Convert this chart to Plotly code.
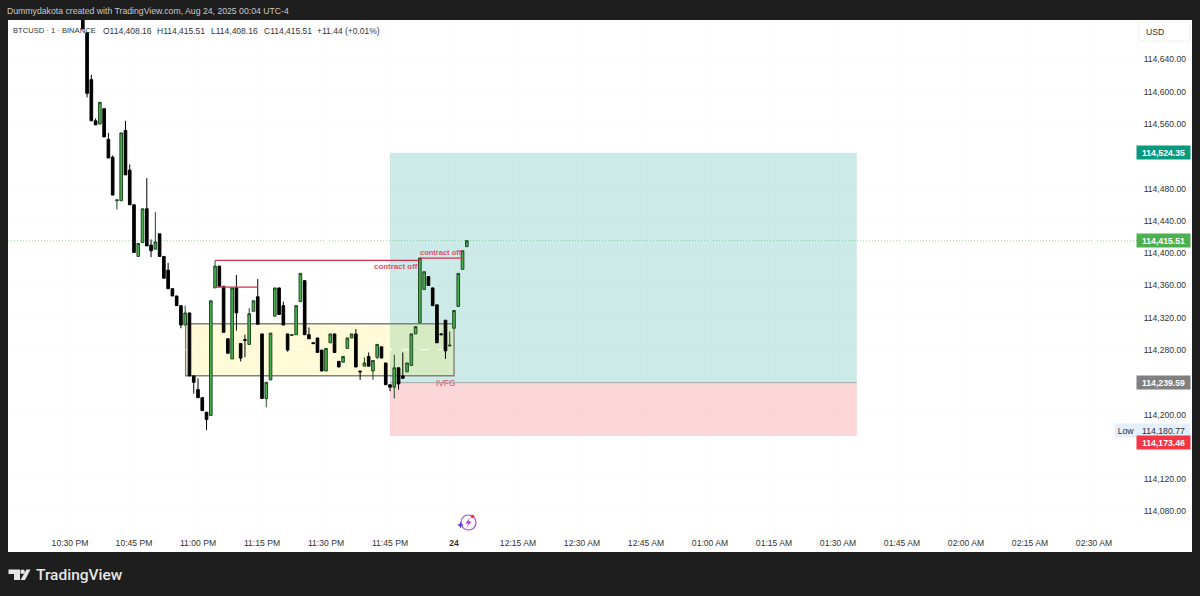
import pandas as pd
import plotly.graph_objects as go

BASE = pd.Timestamp("2025-08-23 22:30")
FIRST_MINUTE = 3
opens = [114702,114673,114615,114564,114560,114579,114541,114519,114465,114465,114552,114503,114460,114396,114413,114455,114410,114405,114424,114396,114379,114356,114347,114335,114311,114326,114248,114231,114221,114203,114199,114357,114384,114359,114294,114269,114357,114288,114293,114287,114328,114346,114300,114220,114243,114322,114357,114335,114300,114298,114299,114340,114366,114299,114289,114295,114280,114254,114289,114300,114266,114265,114282,114295,114300,114254,114260,114272,114254,114271,114284,114264,114237,114234,114258,114248,114253,114261,114300,114314,114355,114371,114357,114336,114300,114317,114285,114307,114334,114380,114408.16]
highs = [114708,114673,114621,114567,114587,114579,114549,114521,114466,114549,114564,114510,114460,114412,114455,114493,114417,114451,114424,114396,114388,114356,114347,114335,114335,114326,114248,114245,114221,114203,114341,114391,114384,114359,114294,114357,114373,114288,114299,114332,114341,114368,114300,114240,114301,114357,114357,114340,114300,114299,114335,114375,114366,114308,114290,114295,114280,114282,114300,114300,114266,114272,114295,114300,114306,114254,114271,114277,114267,114287,114284,114264,114237,114274,114258,114277,114264,114300,114309,114394,114377,114371,114357,114336,114301,114317,114303,114329,114375,114403,114415.51]
lows = [114678,114593,114564,114559,114560,114544,114518,114472,114454,114465,114497,114460,114401,114396,114413,114409,114395,114405,114396,114369,114356,114347,114335,114307,114311,114248,114226,114221,114205,114180.77,114199,114357,114359,114302,114276,114269,114304,114266,114271,114287,114328,114312,114220,114209,114243,114322,114324,114311,114278,114298,114299,114340,114299,114294,114288,114277,114254,114254,114289,114277,114259,114265,114282,114295,114259,114243,114260,114260,114243,114269,114270,114237,114229,114220,114231,114245,114253,114261,114300,114314,114355,114360,114335,114289,114299,114269,114285,114307,114334,114380,114408.16]
closes = [114678,114598,114564,114559,114587,114544,114518,114472,114466,114549,114497,114460,114401,114412,114455,114409,114403,114414,114396,114369,114356,114347,114335,114311,114326,114248,114240,114221,114205,114194,114341,114384,114359,114302,114276,114357,114326,114270,114292,114325,114341,114312,114220,114240,114301,114357,114324,114311,114280,114299,114335,114375,114299,114294,114288,114277,114254,114282,114300,114277,114259,114272,114295,114300,114259,114253,114264,114260,114267,114287,114270,114237,114234,114258,114238,114245,114264,114300,114309,114394,114377,114360,114335,114289,114299,114279,114286,114329,114375,114403,114415.51]

tick_minutes = [0,15,30,45,60,75,90,105,120,135,150,165,180,195,210,225,240]
tick_labels = ["10:30 PM","10:45 PM","11:00 PM","11:15 PM","11:30 PM","11:45 PM","<b>24</b>","12:15 AM","12:30 AM","12:45 AM","01:00 AM","01:15 AM","01:30 AM","01:45 AM","02:00 AM","02:15 AM","02:30 AM"]
price_ticks = [114080,114120,114200,114280,114320,114360,114400,114440,114480,114560,114600,114640]

target_price = 114524.35
entry_price = 114239.59
stop_price = 114173.46
last_price = 114415.51
low_price = 114180.77
range_top, range_bottom, range_mid = 114312.5, 114248.2, 114280.5
hi_line_a, hi_line_b, hi_line_c = 114391, 114358, 114394

FONT = "Liberation Sans"
W, H, L, R, T, B = 1200, 596, 8, 8, 20, 44
PW, PH = W - L - R, H - T - B

def t(m):
    return BASE + pd.Timedelta(minutes=m)
def px(x):
    return (x - L) / PW
def py(y):
    return (H - B - y) / PH

times = [t(FIRST_MINUTE + i) for i in range(len(opens))]

fig = go.Figure(go.Candlestick(
    x=times, open=opens, high=highs, low=lows, close=closes,
    increasing=dict(line=dict(color="#1d4a20", width=1), fillcolor="#4caf50"),
    decreasing=dict(line=dict(color="#000000", width=1), fillcolor="#000000"),
    whiskerwidth=0, showlegend=False, hoverinfo="skip"))

def rect(m0, m1, p0, p1, fill, line=None, lw=0):
    fig.add_shape(type="rect", x0=t(m0), x1=t(m1), y0=p0, y1=p1, fillcolor=fill,
                  line=dict(color=line or "rgba(0,0,0,0)", width=lw), layer="between")
def seg(m0, m1, p, color, width=1.3, dash="solid", layer="above"):
    fig.add_shape(type="line", x0=t(m0), x1=t(m1), y0=p, y1=p,
                  line=dict(color=color, width=width, dash=dash), layer=layer)

rect(75, 184.4, entry_price, target_price, "rgba(0,150,136,0.2)")
rect(75, 184.4, stop_price, entry_price, "rgba(242,54,69,0.2)")
fig.add_shape(type="line", x0=t(75), x1=t(184.4), y0=entry_price, y1=entry_price,
              line=dict(color="#a8a8a8", width=1), layer="between")
rect(27.1, 90, range_bottom, range_top, "rgba(255,235,59,0.2)", "#808080", 1.4)
seg(27.1, 90, range_mid, "rgba(255,255,255,0.9)", 1.3, "dash", "between")
seg(34, 82, hi_line_a, "#d4304f")
seg(34, 44, hi_line_b, "#d4304f")
seg(82, 92, hi_line_c, "#d4304f")
fig.add_shape(type="line", xref="paper", x0=0, x1=px(1137), y0=last_price, y1=last_price,
              line=dict(color="#a5d6a7", width=1, dash="1px,2px"), layer="between")

def note(text, m, p, size=7.9, weight=700, color="#e0506e"):
    fig.add_annotation(x=t(m), y=p, text=text, showarrow=False, xanchor="center", yanchor="middle",
                       font=dict(family=FONT, size=size, color=color, weight=weight))
note("contract off", 76.3, 114383)
note("contract off", 86.9, 114401, size=7.5)
note("IVFG", 88.1, 114239, size=8.3, weight=400)

def badge(text, price, color, shift=0, fg="#ffffff", x=1163.5, w=53, weight=700):
    fig.add_annotation(xref="paper", x=px(x), y=price, yshift=shift, text=text, showarrow=False,
                       xanchor="center", yanchor="middle", bgcolor=color, width=w, height=13, borderpad=0,
                       font=dict(family=FONT, size=8.7, color=fg, weight=weight))
badge("114,524.35", target_price, "#089981")
badge("114,415.51", last_price, "#4caf50")
badge("114,239.59", entry_price, "#808080")
badge("Low", low_price, "#e3effd", 0, "#2a2e39", 1126, 22, 400)
badge("114,180.77", low_price, "#e3effd", 0, "#2a2e39", 1163.5, 53, 400)
badge("114,173.46", stop_price, "#f23645", -6.5)

def label(text, x, y, size, color, anchor="left", family=FONT, **kw):
    fig.add_annotation(xref="paper", yref="paper", x=px(x), y=py(y), text=text, showarrow=False,
                       xanchor=anchor, yanchor="middle", borderpad=0,
                       font=dict(family=family, size=size, color=color, **kw))

label("Dummydakota created with TradingView.com, Aug 24, 2025 00:04 UTC-4", 6, 10.5, 8.7, "#c8c8c8")
label("BTCUSD · 1 · BINANCE", 12, 30.5, 7.6, "#333333")
label("O114,408.16", 102, 30.5, 8.5, "#333333")
label("H114,415.51", 156, 30.5, 8.5, "#333333")
label("L114,408.16", 210, 30.5, 8.5, "#333333")
label("C114,415.51", 262.5, 30.5, 8.5, "#333333")
label("+11.44 (+0.01%)", 316, 30.5, 8.5, "#333333")
label("TradingView", 35, 575, 15.5, "#e6e6e6", family="Roboto", weight=500)

# USD box
fig.add_shape(type="rect", xref="paper", yref="paper", x0=px(1139), x1=px(1190), y0=py(22), y1=py(41),
              line=dict(color="#efefef", width=1), fillcolor="#ffffff")
label("USD", 1145, 32, 8.7, "#333333")

def path(d, fill, color=None, width=0):
    fig.add_shape(type="path", xref="paper", yref="paper", path=d, fillcolor=fill,
                  line=dict(color=color or "rgba(0,0,0,0)", width=width))
def poly(pts):
    return "M " + " L ".join(f"{px(a):.5f} {py(b):.5f}" for a, b in pts) + " Z"
def circle(cx, cy, r, fill, color=None, width=0):
    fig.add_shape(type="circle", xref="paper", yref="paper", x0=px(cx-r), x1=px(cx+r), y0=py(cy+r), y1=py(cy-r),
                  fillcolor=fill, line=dict(color=color or "rgba(0,0,0,0)", width=width))

# TradingView logo
path(poly([(8.5,569.5),(20,569.5),(20,580),(14,580),(14,574),(8.5,574)]), "#e6e6e6")
circle(22.6, 571.8, 2.3, "#e6e6e6")
path(poly([(26.5,569.5),(30.5,569.5),(25,580),(20.5,580)]), "#e6e6e6")

# Event icon
circle(468.5, 522.5, 7.5, "#ffffff", "#9c4fd6", 1.2)
path(poly([(470,517.5),(465.5,523.5),(468.5,523.5),(466.5,527.5),(471.5,521.5),(468.5,521.5)]), "#a13fd0")
path(poly([(460.5,521.5),(461.5,524),(464,525),(461.5,526),(460.5,528.5),(459.5,526),(457,525),(459.5,524)]), "#5b3fd8")
circle(472.5, 516.5, 1.8, "#f23645")

TICKFONT = dict(family=FONT, size=8.6, color="#333333")
fig.update_layout(
    width=W, height=H, autosize=False,
    margin=dict(l=L, r=R, t=T, b=B, pad=0),
    paper_bgcolor="#1e1e1e", plot_bgcolor="#ffffff",
    showlegend=False, dragmode=False, hovermode=False, boxgap=0.12,
    font=dict(family=FONT, size=9, color="#333333"),
    xaxis=dict(type="date", range=[t(-14.53), t(262.96)], rangeslider=dict(visible=False),
               tickmode="array", tickvals=[t(m) for m in tick_minutes], ticktext=tick_labels,
               ticklabelposition="inside", ticks="", showline=False, zeroline=False, ticklabelstandoff=1,
               showgrid=True, gridcolor="#fbfbfb", tickfont=TICKFONT),
    yaxis=dict(side="right", range=[114029.8, 114688.9], tickmode="array", tickvals=price_ticks,
               tickformat=",.2f", ticklabelposition="inside", ticks="", showline=False, zeroline=False,
               ticklabelstandoff=3, showgrid=True, gridcolor="#fbfbfb", tickfont=TICKFONT),
)
fig.write_html("out.html", config=dict(displayModeBar=False),
               post_script="document.body.style.margin='0';document.documentElement.style.background='#1e1e1e';")
